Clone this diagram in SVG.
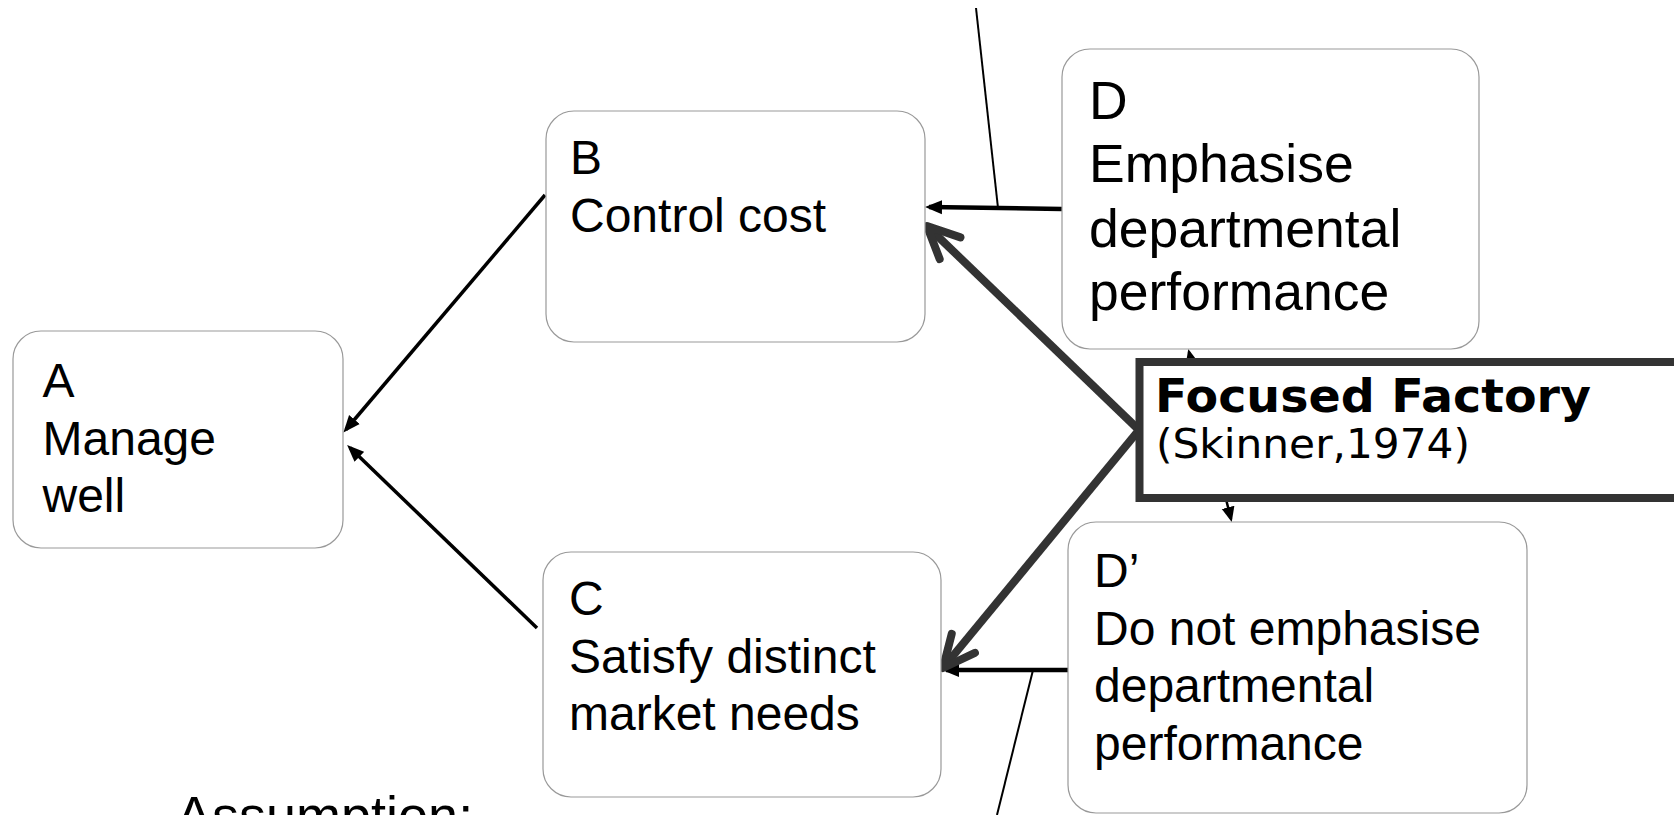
<svg xmlns="http://www.w3.org/2000/svg" width="1674" height="815" viewBox="0 0 1674 815">
<style>
.box{fill:#fff;stroke:#999;stroke-width:1.2}
.t{font-family:"Liberation Sans",Arial,sans-serif;font-size:48px;fill:#000}
.tl{font-family:"Liberation Sans",Arial,sans-serif;font-size:53.5px;fill:#000}
.blk{stroke:#000;fill:none}
.gry{stroke:#333;stroke-width:8;fill:none}
</style>
<defs>
<marker id="tri" markerUnits="userSpaceOnUse" markerWidth="18" markerHeight="16" viewBox="0 0 18 16" refX="13" refY="8" orient="auto">
<path d="M0,1 L17,8 L0,15 z" fill="#000"/>
</marker>
<marker id="triS" markerUnits="userSpaceOnUse" markerWidth="16" markerHeight="16" viewBox="0 0 16 16" refX="12" refY="8" orient="auto-start-reverse">
<path d="M0,1.5 L15,8 L0,14.5 z" fill="#000"/>
</marker>
<marker id="chev" markerUnits="userSpaceOnUse" markerWidth="50" markerHeight="50" viewBox="-40 -25 50 50" refX="0" refY="0" orient="auto" overflow="visible">
<path d="M-32,-15 L0,0 L-32,15" fill="none" stroke="#333" stroke-width="8" stroke-linecap="round" stroke-linejoin="round"/>
</marker>
</defs>
<g id="connectors">
<line class="blk" x1="545" y1="195" x2="346" y2="429.5" stroke-width="3.5" marker-end="url(#tri)"/>
<line class="blk" x1="537" y1="628" x2="350" y2="447.8" stroke-width="3.5" marker-end="url(#tri)"/>
<line class="blk" x1="1062" y1="209" x2="929" y2="207" stroke-width="4.5" marker-end="url(#tri)"/>
<line class="blk" x1="1068" y1="670" x2="946" y2="670" stroke-width="4.5" marker-end="url(#tri)"/>
<line class="blk" x1="976" y1="8" x2="998" y2="208" stroke-width="2"/>
<line class="blk" x1="1033" y1="670" x2="997" y2="815" stroke-width="2"/>
<line class="blk" x1="1189" y1="352" x2="1231" y2="519" stroke-width="2.5" marker-start="url(#triS)" marker-end="url(#triS)"/>
<line class="gry" x1="1139" y1="430" x2="927" y2="226" marker-end="url(#chev)"/>
<line class="gry" x1="1139" y1="430" x2="943" y2="668" marker-end="url(#chev)"/>
</g>
<g id="node-A">
<rect class="box" x="13" y="331" width="330" height="217" rx="28"/>
<text class="t" x="42.5" y="397">A</text>
<text class="t" x="42.5" y="455">Manage</text>
<text class="t" x="42.5" y="512">well</text>
</g>
<g id="node-B">
<rect class="box" x="546" y="111" width="379" height="231" rx="28"/>
<text class="t" x="570" y="174">B</text>
<text class="t" x="570" y="232">Control cost</text>
</g>
<g id="node-C">
<rect class="box" x="543" y="552" width="398" height="245" rx="28"/>
<text class="t" x="569" y="615">C</text>
<text class="t" x="569" y="673">Satisfy distinct</text>
<text class="t" x="569" y="730">market needs</text>
</g>
<g id="node-D">
<rect class="box" x="1062" y="49" width="417" height="300" rx="28"/>
<text class="tl" x="1089" y="119">D</text>
<text class="tl" x="1089" y="182">Emphasise</text>
<text class="tl" x="1089" y="247">departmental</text>
<text class="tl" x="1089" y="310">performance</text>
</g>
<g id="node-D-prime">
<rect class="box" x="1068" y="522" width="459" height="291" rx="28"/>
<text class="t" x="1094" y="587">D’</text>
<text class="t" x="1094" y="645">Do not emphasise</text>
<text class="t" x="1094" y="702">departmental</text>
<text class="t" x="1094" y="760">performance</text>
</g>
<g id="node-focused-factory">
<rect x="1139.5" y="362" width="600" height="136" fill="#fff" stroke="#333" stroke-width="8"/>
<text x="1155" y="412" font-family="'DejaVu Sans',Verdana,sans-serif" font-weight="bold" font-size="46" textLength="436" lengthAdjust="spacingAndGlyphs">Focused Factory</text>
<text x="1156" y="458" font-family="'DejaVu Sans',Verdana,sans-serif" font-size="41" textLength="314" lengthAdjust="spacingAndGlyphs">(Skinner,1974)</text>
</g>
<g id="assumption">
<text x="176" y="834" font-family="'Liberation Sans',Arial,sans-serif" font-size="54">Assumption:</text>
</g>
</svg>
